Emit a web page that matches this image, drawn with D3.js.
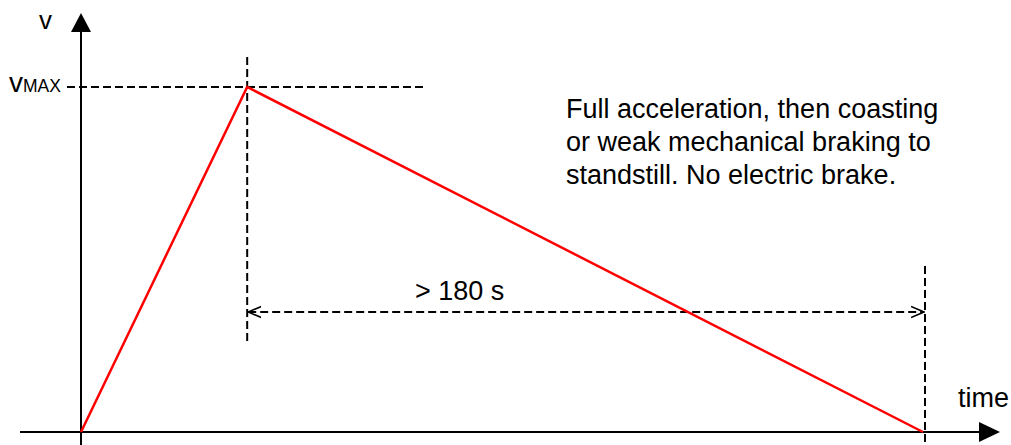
<!DOCTYPE html>
<html>
<head>
<meta charset="utf-8">
<script src="https://cdn.jsdelivr.net/npm/d3@7"></script>
<style>
  html, body { margin: 0; padding: 0; background: #fff; }
  text { font-family: "Liberation Sans", Arial, sans-serif; fill: #000; }
</style>
</head>
<body>
<svg id="chart" width="1011" height="445"></svg>
<script>
// Data: speed profile (normalised speed vs time in s)
const times = [0, 45, 228];
const speeds = [0, 1, 0];
const yLabel = "v";
const xLabel = "time";
const vmaxLabel = ["v", "MAX"];
const durationLabel = "> 180 s";
const note = ["Full acceleration, then coasting", "or weak mechanical braking to", "standstill. No electric brake."];

const svg = d3.select("#chart");
const x = d3.scaleLinear().domain([0, 228]).range([81, 923]);
const y = d3.scaleLinear().domain([0, 1]).range([432, 87]);

const x0 = x(0), y0 = y(0);
const tPeak = times[1], tEnd = times[2];

const defs = svg.append("defs");
defs.append("marker").attr("id", "open").attr("viewBox", "0 0 14 14")
  .attr("refX", 13).attr("refY", 7).attr("markerWidth", 14).attr("markerHeight", 14)
  .attr("markerUnits", "userSpaceOnUse").attr("orient", "auto-start-reverse")
  .append("path").attr("d", "M0,1.5 L13,7 L0,12.5").attr("fill", "none").attr("stroke", "#000").attr("stroke-width", 1.6);

// axes
svg.append("line").attr("x1", 20).attr("x2", 982).attr("y1", y0).attr("y2", y0)
  .attr("stroke", "#000").attr("stroke-width", 2);
svg.append("path").attr("d", `M979,${y0-10} L1000,${y0} L979,${y0+10} Z`).attr("fill", "#000");
svg.append("line").attr("x1", x0).attr("x2", x0).attr("y1", 445).attr("y2", 30)
  .attr("stroke", "#000").attr("stroke-width", 2);
svg.append("path").attr("d", `M${x0-10},32 L${x0},13 L${x0+10},32 Z`).attr("fill", "#000");

const dash = "8,4";
svg.append("line").attr("x1", 67).attr("x2", 425).attr("y1", y(1)).attr("y2", y(1))
  .attr("stroke", "#000").attr("stroke-width", 2).attr("stroke-dasharray", dash);
svg.append("line").attr("x1", x(tPeak)).attr("x2", x(tPeak)).attr("y1", 57).attr("y2", 343)
  .attr("stroke", "#000").attr("stroke-width", 2).attr("stroke-dasharray", dash);
svg.append("line").attr("x1", x(tEnd) + 2).attr("x2", x(tEnd) + 2).attr("y1", 266).attr("y2", 445)
  .attr("stroke", "#000").attr("stroke-width", 2).attr("stroke-dasharray", dash);
svg.append("line").attr("x1", x(tPeak) + 1).attr("x2", x(tEnd) + 1).attr("y1", 312).attr("y2", 312)
  .attr("stroke", "#000").attr("stroke-width", 2).attr("stroke-dasharray", dash)
  .attr("marker-start", "url(#open)").attr("marker-end", "url(#open)");

// profile line
const line = d3.line().x((d, i) => x(times[i])).y(d => y(d));
svg.append("path").datum(speeds).attr("d", line)
  .attr("fill", "none").attr("stroke", "#ff0000").attr("stroke-width", 2.5);

// labels
svg.append("text").attr("x", 39).attr("y", 29).attr("font-size", 26).text(yLabel);
const vm = svg.append("text").attr("x", 9).attr("y", 92).attr("font-size", 28);
vm.append("tspan").text(vmaxLabel[0]);
vm.append("tspan").attr("font-size", 17.5).text(vmaxLabel[1]);
svg.append("text").attr("x", 958).attr("y", 407).attr("font-size", 27).text(xLabel);
svg.append("text").attr("x", 415).attr("y", 300).attr("font-size", 27).text(durationLabel);
svg.append("g").selectAll("text").data(note).join("text")
  .attr("x", 566).attr("y", (d, i) => 118 + i * 33).attr("font-size", 27).text(d => d);
</script>
</body>
</html>
